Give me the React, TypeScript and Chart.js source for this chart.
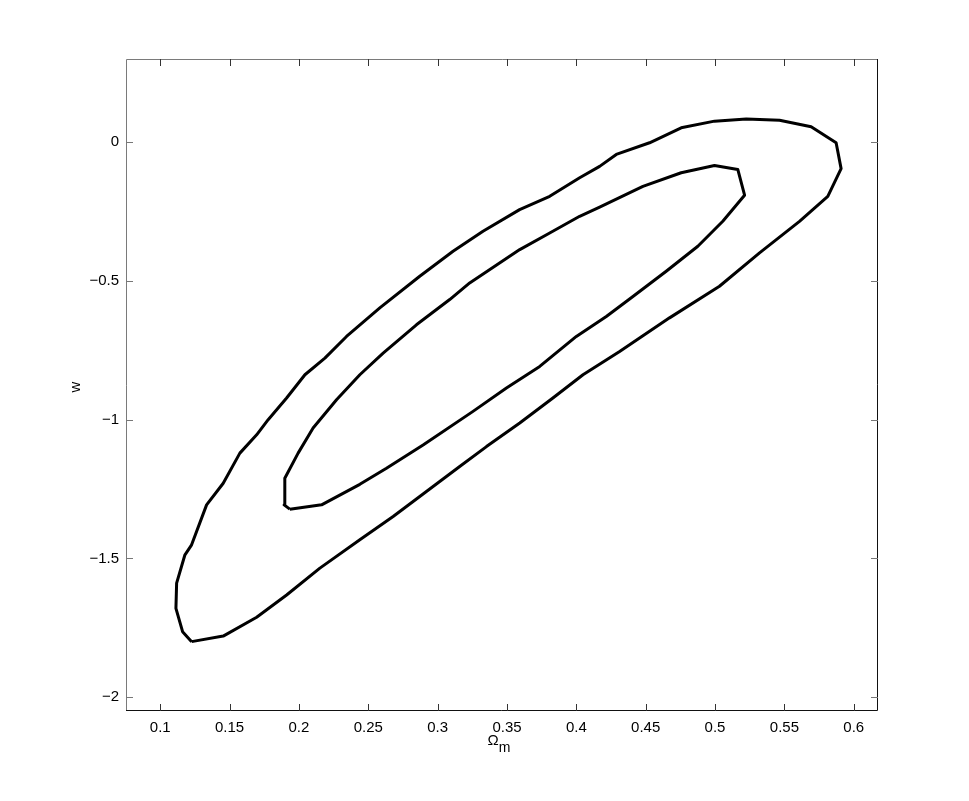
import React, { useEffect, useRef } from "react";
import { Chart, registerables } from "chart.js";

Chart.register(...registerables);

// Outer (95%) contour: Omega_m values and w values
const OUTER_OM = [
  0.1226, 0.1161, 0.1113, 0.1118, 0.1178, 0.1226, 0.1334, 0.1454, 0.1574, 0.1695,
  0.1778, 0.1911, 0.2043, 0.2187, 0.2343, 0.2583, 0.2871, 0.3111, 0.3327, 0.3591,
  0.3808, 0.4024, 0.4168, 0.4288, 0.4528, 0.4756, 0.4996, 0.5225, 0.5465, 0.5693,
  0.5873, 0.5909, 0.5813, 0.5609, 0.5321, 0.5032, 0.4672, 0.4312, 0.4048, 0.3831,
  0.3592, 0.3352, 0.3159, 0.2919, 0.2679, 0.2439, 0.2151, 0.1911, 0.1695, 0.1454,
  0.1226,
];
const OUTER_W = [
  -1.8, -1.764, -1.68, -1.589, -1.487, -1.451, -1.307, -1.229, -1.1205, -1.0545,
  -1.0, -0.922, -0.838, -0.778, -0.7, -0.597, -0.483, -0.393, -0.321, -0.243,
  -0.195, -0.128, -0.087, -0.044, -0.002, 0.052, 0.076, 0.084, 0.079, 0.056,
  -0.002, -0.095, -0.195, -0.285, -0.399, -0.519, -0.633, -0.754, -0.838, -0.922,
  -1.012, -1.097, -1.169, -1.259, -1.349, -1.433, -1.535, -1.632, -1.712, -1.78,
  -1.8,
];

// Inner (68%) contour
const INNER_OM = [
  0.1934, 0.1893, 0.1898, 0.1994, 0.2102, 0.2271, 0.2439, 0.2607, 0.2847, 0.3087,
  0.3231, 0.3592, 0.3808, 0.4024, 0.4168, 0.448, 0.4756, 0.4996, 0.5164, 0.5213,
  0.5056, 0.4876, 0.4648, 0.4408, 0.4216, 0.4, 0.3736, 0.3496, 0.3255, 0.2895,
  0.2631, 0.2439, 0.2163, 0.1934,
];
const INNER_W = [
  -1.3225, -1.307, -1.211, -1.1205, -1.03, -0.928, -0.838, -0.76, -0.658, -0.567,
  -0.507, -0.387, -0.327, -0.267, -0.234, -0.159, -0.11, -0.084, -0.098, -0.191,
  -0.285, -0.375, -0.465, -0.556, -0.628, -0.7, -0.808, -0.886, -0.97, -1.091,
  -1.175, -1.233, -1.307, -1.3225,
];

const X_TICKS = [0.1, 0.15, 0.2, 0.25, 0.3, 0.35, 0.4, 0.45, 0.5, 0.55, 0.6];
const X_TICK_LABELS = ["0.1", "0.15", "0.2", "0.25", "0.3", "0.35", "0.4", "0.45", "0.5", "0.55", "0.6"];
const Y_TICKS = [-2, -1.5, -1, -0.5, 0];
const Y_TICK_LABELS = ["\u22122", "\u22121.5", "\u22121", "\u22120.5", "0"];

const X_MIN = 0.0753;
const X_MAX = 0.6175;
const Y_MIN = -2.05;
const Y_MAX = 0.3;

const FONT = "'Liberation Sans', Arial, Helvetica, sans-serif";

const framePlugin = {
  id: "matlabFrame",
  afterDraw(chart: any) {
    const { ctx, chartArea } = chart;
    const { left, right, top, bottom } = chartArea;
    const xs = chart.scales.x;
    const ys = chart.scales.y;
    ctx.save();
    ctx.lineWidth = 1;
    // frame
    ctx.strokeStyle = "#7a7a7a";
    ctx.beginPath();
    ctx.moveTo(left + 0.5, bottom);
    ctx.lineTo(left + 0.5, top + 0.5);
    ctx.lineTo(right, top + 0.5);
    ctx.stroke();
    ctx.strokeStyle = "#111";
    ctx.beginPath();
    ctx.moveTo(left, bottom - 0.5);
    ctx.lineTo(right - 0.5, bottom - 0.5);
    ctx.lineTo(right - 0.5, top);
    ctx.stroke();
    // ticks
    const tl = 7;
    ctx.strokeStyle = "#333";
    X_TICKS.forEach((v) => {
      const px = Math.round(xs.getPixelForValue(v)) + 0.5;
      ctx.beginPath();
      ctx.moveTo(px, bottom);
      ctx.lineTo(px, bottom - tl);
      ctx.moveTo(px, top);
      ctx.lineTo(px, top + tl);
      ctx.stroke();
    });
    ctx.strokeStyle = "#777";
    Y_TICKS.forEach((v) => {
      const py = Math.round(ys.getPixelForValue(v)) + 0.5;
      ctx.beginPath();
      ctx.moveTo(left, py);
      ctx.lineTo(left + tl, py);
      ctx.moveTo(right, py);
      ctx.lineTo(right - tl, py);
      ctx.stroke();
    });
    // axis titles
    ctx.fillStyle = "#000";
    const cx = (left + right) / 2;
    ctx.font = `15px ${FONT}`;
    ctx.textBaseline = "alphabetic";
    ctx.textAlign = "left";
    const omW = ctx.measureText("\u03A9").width;
    ctx.font = `14px ${FONT}`;
    const mW = ctx.measureText("m").width;
    const startX = cx - (omW + mW) / 2 - 3;
    ctx.font = `15px ${FONT}`;
    ctx.fillText("\u03A9", startX, 745);
    ctx.font = `14px ${FONT}`;
    ctx.fillText("m", startX + omW, 752);
    // y title
    ctx.save();
    ctx.translate(80, (top + bottom) / 2 + 2);
    ctx.rotate(-Math.PI / 2);
    ctx.font = `15px ${FONT}`;
    ctx.textAlign = "center";
    ctx.fillText("w", 0, 0);
    ctx.restore();
    ctx.restore();
  },
};

export default function App() {
  const ref = useRef<HTMLCanvasElement | null>(null);
  useEffect(() => {
    if (!ref.current) return;
    const outer = OUTER_OM.map((x, i) => ({ x, y: OUTER_W[i] }));
    const inner = INNER_OM.map((x, i) => ({ x, y: INNER_W[i] }));
    const chart = new Chart(ref.current, {
      type: "scatter",
      data: {
        datasets: [
          {
            data: outer,
            showLine: true,
            borderColor: "#000",
            borderWidth: 3,
            pointRadius: 0,
            borderJoinStyle: "round",
            fill: false,
          } as any,
          {
            data: inner,
            showLine: true,
            borderColor: "#000",
            borderWidth: 3,
            pointRadius: 0,
            borderJoinStyle: "round",
            fill: false,
          } as any,
        ],
      },
      options: {
        animation: false,
        responsive: false,
        maintainAspectRatio: false,
        layout: { padding: { top: 59, right: 91, left: 0, bottom: 0 } },
        plugins: {
          legend: { display: false },
          tooltip: { enabled: false },
          title: { display: false },
        },
        scales: {
          x: {
            type: "linear",
            min: X_MIN,
            max: X_MAX,
            grid: { display: false, drawTicks: false },
            border: { display: false },
            afterBuildTicks: (s: any) => {
              s.ticks = X_TICKS.map((v) => ({ value: v }));
            },
            afterFit: (s: any) => {
              s.height = 90;
            },
            ticks: {
              padding: 8,
              maxRotation: 0,
              autoSkip: false,
              color: "#000",
              font: { family: FONT, size: 15 },
              callback: (v: any) => {
                const i = X_TICKS.findIndex((t) => Math.abs(t - Number(v)) < 1e-9);
                return i >= 0 ? X_TICK_LABELS[i] : "";
              },
            },
          },
          y: {
            type: "linear",
            min: Y_MIN,
            max: Y_MAX,
            grid: { display: false, drawTicks: false },
            border: { display: false },
            afterBuildTicks: (s: any) => {
              s.ticks = Y_TICKS.map((v) => ({ value: v }));
            },
            afterFit: (s: any) => {
              s.width = 126;
            },
            ticks: {
              padding: 7,
              autoSkip: false,
              color: "#000",
              font: { family: FONT, size: 15 },
              callback: (v: any) => {
                const i = Y_TICKS.findIndex((t) => Math.abs(t - Number(v)) < 1e-9);
                return i >= 0 ? Y_TICK_LABELS[i] : "";
              },
            },
          },
        },
      },
      plugins: [framePlugin],
    });
    return () => chart.destroy();
  }, []);
  return (
    <div style={{ position: "fixed", left: 0, top: 0, width: 969, height: 801, background: "#fff" }}>
      <canvas ref={ref} width={969} height={801} style={{ width: 969, height: 801, display: "block" }} />
    </div>
  );
}
